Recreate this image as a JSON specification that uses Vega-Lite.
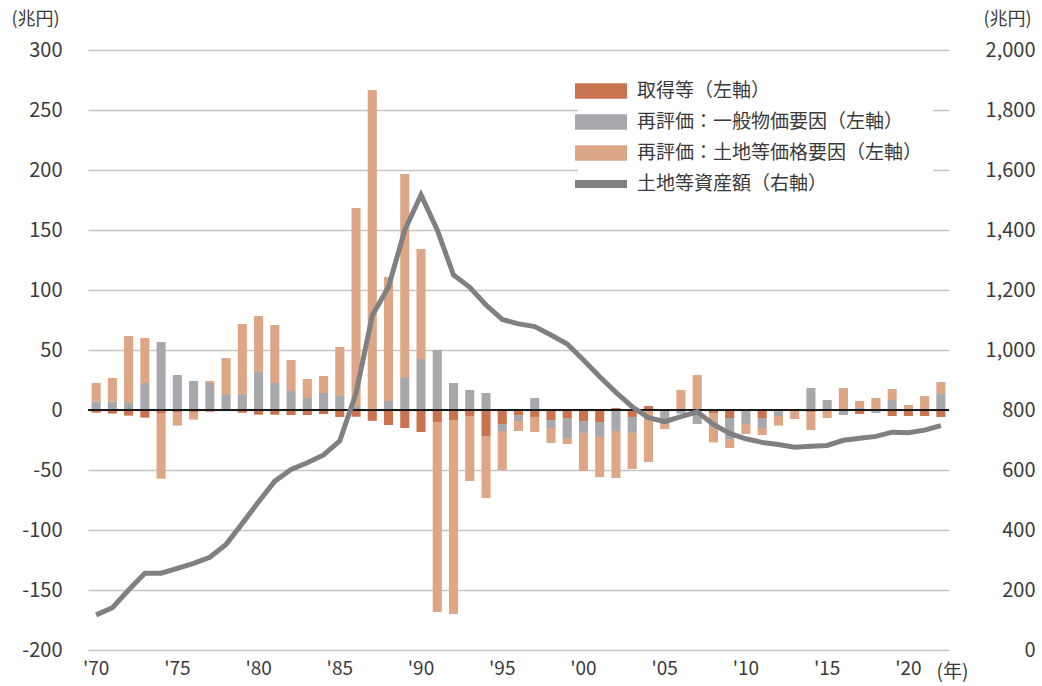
{
  "$schema": "https://vega.github.io/schema/vega-lite/v6.json",
  "width": 861,
  "height": 600,
  "autosize": "none",
  "padding": {"left": 88, "top": 50, "right": 93, "bottom": 36},
  "background": "white",
  "config": {
    "font": "Noto Sans CJK JP",
    "view": {"stroke": null},
    "axis": {"labelFont": "Noto Sans CJK JP", "titleFont": "Noto Sans CJK JP", "labelColor": "#3a3a3a", "titleColor": "#3a3a3a", "titleFontWeight": "normal"},
    "legend": {"labelFont": "Noto Sans CJK JP"}
  },
  "datasets": {
    "d": [
      {"year": 1970, "acq": -2.2, "gen": 6.9, "land": 15.6, "asset": 117},
      {"year": 1971, "acq": -3.0, "gen": 6.9, "land": 19.8, "asset": 141},
      {"year": 1972, "acq": -4.7, "gen": 5.8, "land": 55.9, "asset": 200},
      {"year": 1973, "acq": -6.4, "gen": 22.5, "land": 37.5, "asset": 256},
      {"year": 1974, "acq": -3.1, "gen": 56.7, "land": -54.1, "asset": 256},
      {"year": 1975, "acq": -2.2, "gen": 29.2, "land": -10.8, "asset": 272},
      {"year": 1976, "acq": -2.2, "gen": 24.2, "land": -5.8, "asset": 289},
      {"year": 1977, "acq": -1.4, "gen": 22.5, "land": 1.7, "asset": 309},
      {"year": 1978, "acq": -0.3, "gen": 12.5, "land": 30.8, "asset": 352},
      {"year": 1979, "acq": -2.2, "gen": 12.5, "land": 59.2, "asset": 422},
      {"year": 1980, "acq": -3.9, "gen": 31.7, "land": 46.6, "asset": 494},
      {"year": 1981, "acq": -3.9, "gen": 22.5, "land": 48.3, "asset": 563},
      {"year": 1982, "acq": -4.2, "gen": 15.8, "land": 25.9, "asset": 602},
      {"year": 1983, "acq": -4.2, "gen": 10.0, "land": 15.8, "asset": 624},
      {"year": 1984, "acq": -3.3, "gen": 14.2, "land": 14.1, "asset": 650},
      {"year": 1985, "acq": -5.8, "gen": 11.7, "land": 40.8, "asset": 697},
      {"year": 1986, "acq": -5.6, "gen": 3.3, "land": 165.0, "asset": 856},
      {"year": 1987, "acq": -9.0, "gen": 0, "land": 266.7, "asset": 1115},
      {"year": 1988, "acq": -12.5, "gen": 7.5, "land": 103.3, "asset": 1211},
      {"year": 1989, "acq": -15.0, "gen": 26.7, "land": 170.0, "asset": 1400},
      {"year": 1990, "acq": -18.3, "gen": 42.5, "land": 91.7, "asset": 1517},
      {"year": 1991, "acq": -10.0, "gen": 50.0, "land": -158.3, "asset": 1400},
      {"year": 1992, "acq": -8.3, "gen": 22.5, "land": -161.7, "asset": 1250},
      {"year": 1993, "acq": -5.0, "gen": 16.7, "land": -54.2, "asset": 1209},
      {"year": 1994, "acq": -21.7, "gen": 14.2, "land": -51.7, "asset": 1150},
      {"year": 1995, "acq": -11.7, "gen": -5.8, "land": -32.5, "asset": 1102},
      {"year": 1996, "acq": -4.2, "gen": -5.0, "land": -8.3, "asset": 1087},
      {"year": 1997, "acq": -5.8, "gen": 10.0, "land": -12.5, "asset": 1078},
      {"year": 1998, "acq": -8.3, "gen": -6.7, "land": -12.5, "asset": 1050},
      {"year": 1999, "acq": -6.7, "gen": -16.7, "land": -5.0, "asset": 1020},
      {"year": 2000, "acq": -9.2, "gen": -10.0, "land": -31.7, "asset": 967},
      {"year": 2001, "acq": -10.0, "gen": -12.5, "land": -33.3, "asset": 911},
      {"year": 2002, "acq": 1.7, "gen": -17.5, "land": -39.2, "asset": 859},
      {"year": 2003, "acq": -5.8, "gen": -13.3, "land": -30.0, "asset": 811},
      {"year": 2004, "acq": 3.3, "gen": 0, "land": -43.3, "asset": 774},
      {"year": 2005, "acq": 0, "gen": -11.7, "land": -4.2, "asset": 761},
      {"year": 2006, "acq": 0, "gen": -3.0, "land": 16.7, "asset": 778},
      {"year": 2007, "acq": 0, "gen": -11.7, "land": 29.2, "asset": 794},
      {"year": 2008, "acq": -3.0, "gen": 0, "land": -24.0, "asset": 752},
      {"year": 2009, "acq": -6.7, "gen": -17.5, "land": -7.5, "asset": 722},
      {"year": 2010, "acq": 0, "gen": -11.7, "land": -8.3, "asset": 704},
      {"year": 2011, "acq": -6.7, "gen": -8.3, "land": -5.8, "asset": 692},
      {"year": 2012, "acq": -1.0, "gen": -4.0, "land": -8.0, "asset": 685},
      {"year": 2013, "acq": -0.5, "gen": 0, "land": -7.0, "asset": 676},
      {"year": 2014, "acq": -1.7, "gen": 18.3, "land": -15.0, "asset": 679},
      {"year": 2015, "acq": 0, "gen": 8.3, "land": -6.7, "asset": 682},
      {"year": 2016, "acq": 0, "gen": -4.2, "land": 18.3, "asset": 699},
      {"year": 2017, "acq": -3.3, "gen": 1.7, "land": 5.8, "asset": 706},
      {"year": 2018, "acq": -1.0, "gen": -1.5, "land": 10.0, "asset": 712},
      {"year": 2019, "acq": -5.0, "gen": 8.3, "land": 9.2, "asset": 726},
      {"year": 2020, "acq": -5.0, "gen": 0, "land": 4.2, "asset": 724},
      {"year": 2021, "acq": -5.0, "gen": 0, "land": 11.7, "asset": 733},
      {"year": 2022, "acq": -5.8, "gen": 13.3, "land": 10.0, "asset": 748}
    ]
  },
  "data": {"name": "d"},
  "layer": [
    {
      "layer": [
        {
          "transform": [
            {"fold": ["acq", "gen", "land"], "as": ["key", "value"]},
            {"calculate": "indexof(['acq','gen','land'], datum.key)", "as": "ord"},
            {"calculate": "datum.key === 'acq' ? '取得等（左軸）' : datum.key === 'gen' ? '再評価：一般物価要因（左軸）' : '再評価：土地等価格要因（左軸）'", "as": "series"}
          ],
          "mark": {"type": "bar", "strokeWidth": 0},
          "encoding": {
            "x": {
              "field": "year", "type": "ordinal",
              "scale": {"paddingInner": 0.44, "paddingOuter": 0.22},
              "axis": {
                "values": [1970, 1975, 1980, 1985, 1990, 1995, 2000, 2005, 2010, 2015, 2020],
                "labelExpr": "\"'\" + substring(toString(datum.value), 2, 4)",
                "labelAngle": 0, "labelFontSize": 19, "labelPadding": 9,
                "ticks": false, "domain": false, "grid": false,
                "title": "(年)", "titleX": 864, "titleY": 21, "titleAlign": "center", "titleBaseline": "middle", "titleFontSize": 19
              }
            },
            "y": {
              "field": "value", "type": "quantitative", "stack": "zero",
              "scale": {"domain": [-200, 300], "nice": false},
              "axis": {
                "values": [-200, -150, -100, -50, 0, 50, 100, 150, 200, 250, 300],
                "labelExpr": "toString(datum.value)",
                "labelFontSize": 20, "labelPadding": 26,
                "ticks": false, "domain": false,
                "grid": true, "gridColor": "#c6c6c6", "gridWidth": 1.3,
                "title": "(兆円)", "titleAngle": 0, "titleX": -53, "titleY": -31,
                "titleAlign": "center", "titleBaseline": "middle", "titleFontSize": 18
              }
            },
            "color": {
              "field": "series", "type": "nominal",
              "scale": {
                "domain": ["取得等（左軸）", "再評価：一般物価要因（左軸）", "再評価：土地等価格要因（左軸）", "土地等資産額（右軸）"],
                "range": ["#C9744F", "#A7A8AB", "#DDA687", "#808083"]
              },
              "legend": {
                "orient": "none", "legendX": 490, "legendY": 18,
                "fillColor": "white", "padding": 10,
                "title": null,
                "symbolType": "M-2,-0.6H2V0.6H-2Z", "symbolSize": 676, "symbolStrokeWidth": 0,
                "labelFontSize": 19, "labelOffset": 23, "labelColor": "#3a3a3a", "rowPadding": 8,
                "labelLimit": 500,
                "encode": {
                  "symbols": {
                    "update": {
                      "shape": {"signal": "datum.value === '土地等資産額（右軸）' ? 'M-2,-0.3H2V0.3H-2Z' : 'M-2,-0.6H2V0.6H-2Z'"},
                      "fill": {"scale": "color", "field": "value"},
                      "strokeWidth": {"value": 0}
                    }
                  }
                }
              }
            },
            "order": {"field": "ord", "type": "quantitative", "sort": "ascending"}
          }
        },
        {
          "mark": {"type": "rule", "color": "#1a1a1a", "strokeWidth": 1.3},
          "encoding": {"y": {"datum": 0, "type": "quantitative"}}
        }
      ]
    },
    {
      "mark": {"type": "line", "strokeWidth": 5},
      "encoding": {
        "x": {"field": "year", "type": "ordinal"},
        "y": {
          "field": "asset", "type": "quantitative",
          "scale": {"domain": [0, 2000], "nice": false},
          "axis": {
            "orient": "right",
            "values": [0, 200, 400, 600, 800, 1000, 1200, 1400, 1600, 1800, 2000],
            "format": ",d",
            "labelAlign": "right", "labelPadding": 86, "labelFontSize": 20,
            "ticks": false, "domain": false, "grid": false,
            "title": "(兆円)", "titleAngle": 0, "titleX": 58, "titleY": -31,
            "titleAlign": "center", "titleBaseline": "middle", "titleFontSize": 18
          }
        },
        "color": {"datum": "土地等資産額（右軸）"}
      }
    }
  ],
  "resolve": {"scale": {"y": "independent"}}
}
